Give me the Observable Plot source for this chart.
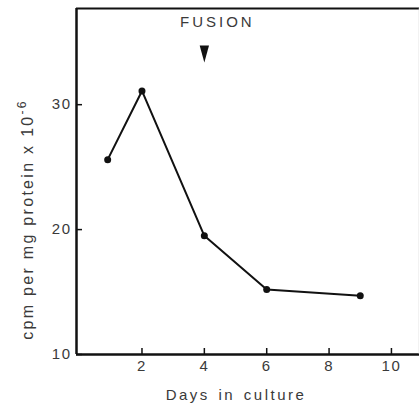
<!DOCTYPE html>
<html><head><meta charset="utf-8">
<script src="https://cdn.jsdelivr.net/npm/d3@7"></script>
<script src="https://cdn.jsdelivr.net/npm/@observablehq/plot@0.6"></script>
<style>body{margin:0;background:#fff}svg{display:block}</style>
</head><body><div id="chart"></div>
<script>
const days = [0.9, 2, 4, 6, 9];
const cpm = [25.6, 31.1, 19.5, 15.2, 14.7];
const xTicks = [2, 4, 6, 8, 10];
const yTicks = [10, 20, 30];
const fusionDay = [4];
const fusionLabel = ["FUSION"];
const xLabel = ["Days in culture"];
const yLabelMain = "cpm per mg protein x 10";
const yLabelExp = "-6";
const yLabel = [yLabelMain + yLabelExp];

const data = days.map((d, i) => ({day: d, value: cpm[i]}));
const xDom = [-0.1, 10.9];
const yDom = [10, 37.7];
const ink = "#111";
const grey = "#3a3a3a";

const arrowHead = {
  draw(ctx, size) {
    const r = Math.sqrt(size / Math.PI);
    ctx.moveTo(-0.55 * r, -r);
    ctx.lineTo(0.55 * r, -r);
    ctx.lineTo(0, r);
    ctx.closePath();
  }
};

const chart = Plot.plot({
  width: 419,
  height: 405,
  marginLeft: 76,
  marginRight: 0,
  marginTop: 8,
  marginBottom: 51,
  style: {fontFamily: "'Liberation Sans', Arial, sans-serif", background: "#fff"},
  x: {domain: xDom},
  y: {domain: yDom},
  marks: [
    Plot.ruleX([xDom[0]], {stroke: ink, strokeWidth: 2.5}),
    Plot.ruleY([yDom[0]], {stroke: ink, strokeWidth: 2.5}),
    Plot.ruleY([yDom[1]], {stroke: ink, strokeWidth: 2}),
    Plot.ruleX([xDom[1]], {stroke: "#ccc", strokeWidth: 1.5}),
    Plot.axisX({ticks: xTicks, tickSize: -6, tickPadding: 12, stroke: ink, strokeWidth: 1.5, fill: grey, fontSize: 15, label: null, tickFormat: d => d}),
    Plot.axisY({ticks: yTicks, tickSize: -6, tickPadding: 11, stroke: ink, strokeWidth: 1.5, fill: grey, fontSize: 15, label: null, tickFormat: d => d}),
    Plot.text(xLabel, {frameAnchor: "bottom", lineAnchor: "middle", textAnchor: "middle", dx: -12, dy: 41, fontSize: 15, fill: grey}),
    Plot.text(yLabel, {frameAnchor: "left", textAnchor: "middle", lineAnchor: "middle", rotate: -90, dx: -49, dy: 38, fontSize: 16, fill: grey}),
    Plot.text(fusionLabel, {x: () => fusionDay[0], frameAnchor: "top", lineAnchor: "top", dx: 13, dy: 8, fontSize: 15, fill: grey}),
    Plot.dot(fusionDay, {x: d => d, frameAnchor: "top", dy: 45.5, symbol: arrowHead, r: 8.5, fill: ink, stroke: "none"}),
    Plot.line(data, {x: "day", y: "value", stroke: ink, strokeWidth: 2}),
    Plot.dot(data, {x: "day", y: "value", r: 3.5, fill: ink, stroke: "none"})
  ]
});
chart.querySelectorAll("text").forEach(t => {
  const s = t.textContent;
  if (s === "FUSION") t.style.letterSpacing = "3px";
  else if (s === yLabel[0]) {
    t.style.letterSpacing = "2.3px";
    t.textContent = yLabelMain;
    const sup = document.createElementNS("http://www.w3.org/2000/svg", "tspan");
    sup.textContent = yLabelExp;
    sup.setAttribute("font-size", "12");
    sup.setAttribute("dy", "-7");
    t.appendChild(sup);
  }
  else if (s.startsWith("Days")) { t.style.letterSpacing = "2.5px"; t.style.wordSpacing = "2px"; }
  else if (/^\d+$/.test(s)) t.style.letterSpacing = "1.5px";
});
document.getElementById("chart").append(chart);
</script>
</body></html>
